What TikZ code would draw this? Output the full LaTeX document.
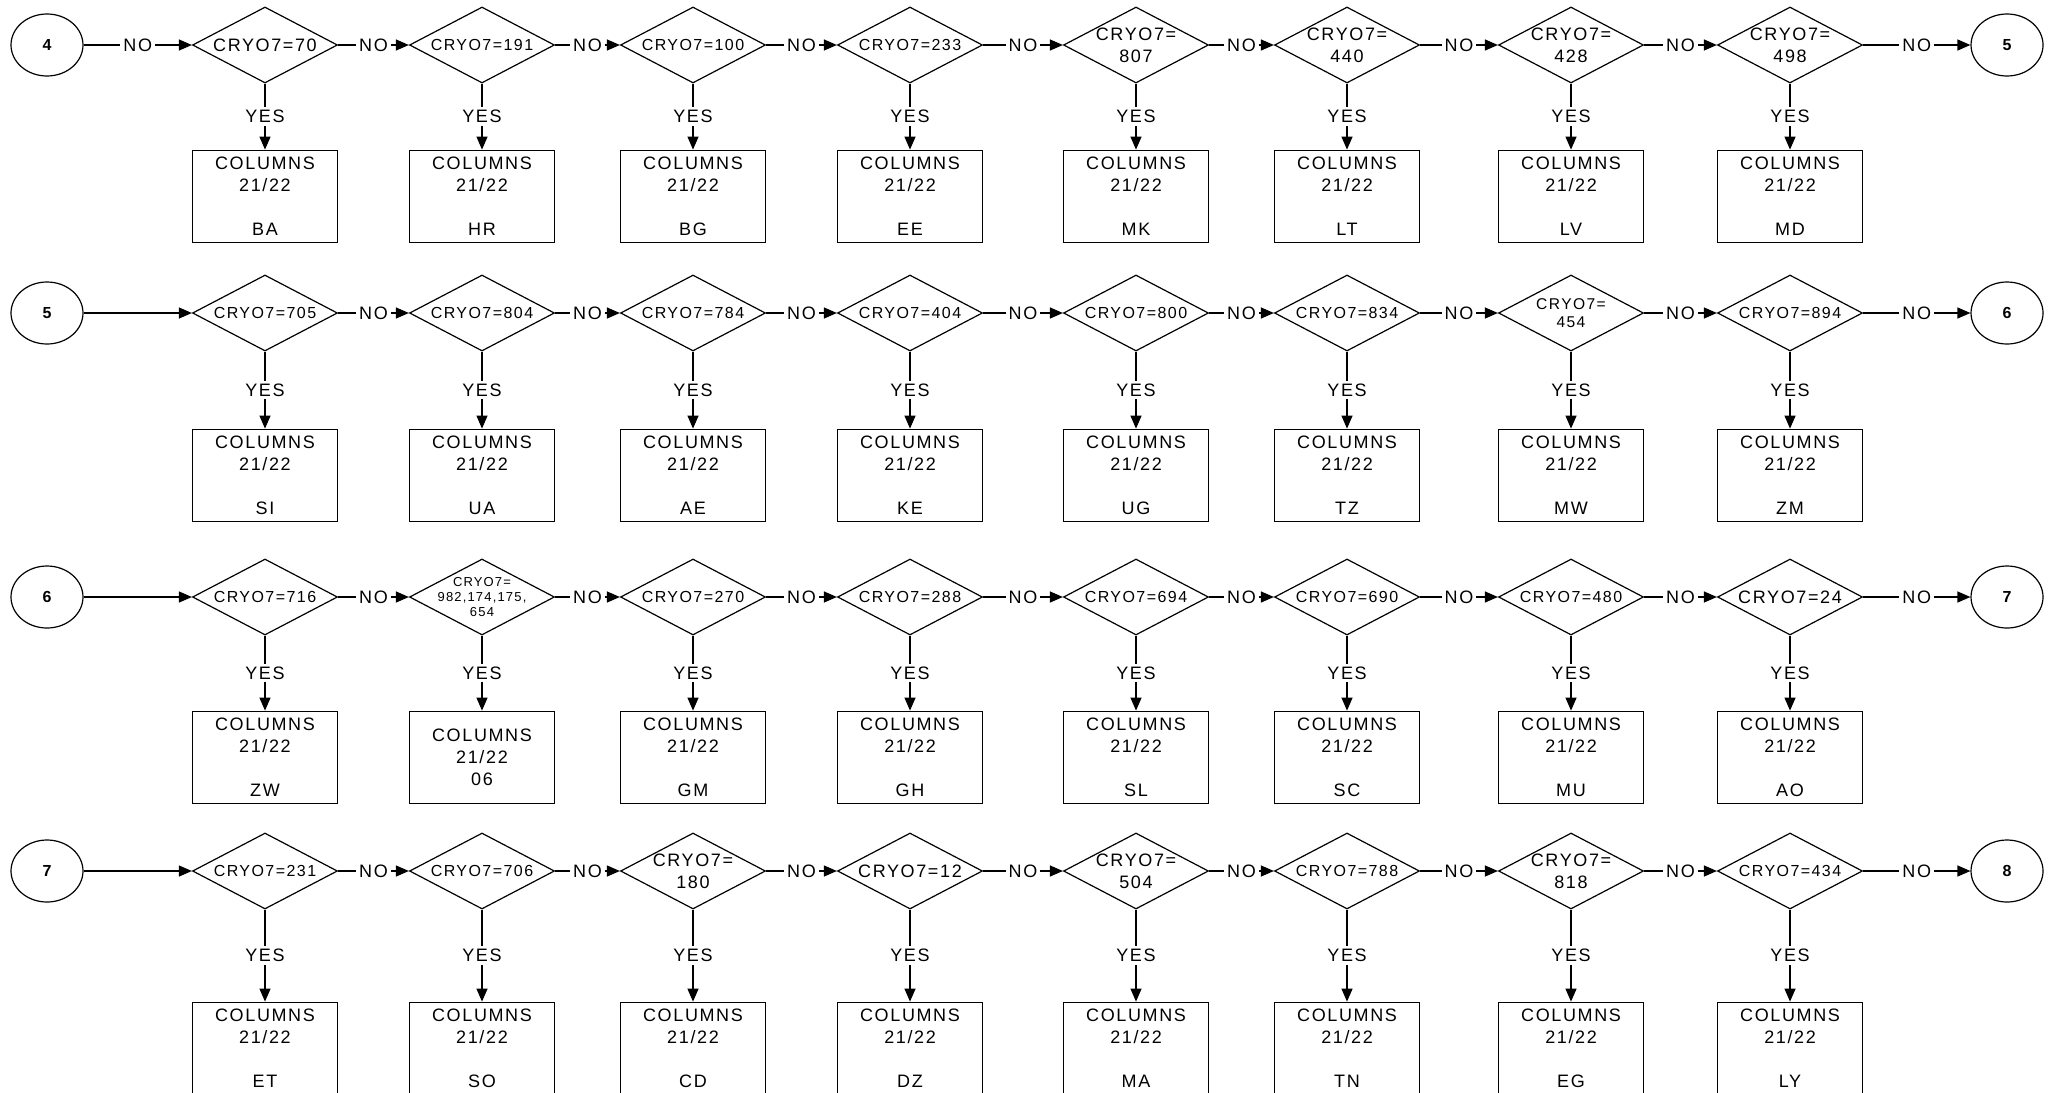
\documentclass[tikz,border=0pt]{standalone}
\usepackage{fontspec}
\setmainfont{Liberation Sans}[LetterSpace=9]
\usetikzlibrary{positioning,shapes.geometric,arrows.meta}
\tikzset{every picture/.style={line width=0.6pt}}

\begin{document}
\begin{tikzpicture}[x=0.5pt, y=-0.5pt, font=\fontsize{9}{11}\selectfont,
    conn/.style={draw, ellipse, minimum width=36pt, minimum height=31pt, inner sep=0pt, font=\fontsize{8}{9}\selectfont\bfseries},
    test/.style={draw, diamond, aspect=1.9, minimum width=72.5pt, minimum height=38pt, inner sep=0pt},
    cry/.style={align=center, inner sep=0pt},
    tight/.style={cry, font=\fontsize{8}{9.5}\selectfont},
    snug/.style={cry, font=\fontsize{7.8}{9}\selectfont},
    tiny/.style={cry, font=\fontsize{6.5}{7.5}\selectfont},
    result/.style={draw, rectangle, minimum width=72.5pt, minimum height=46pt, align=center, inner sep=0pt},
    flow/.style={-{Triangle[length=6.5pt, width=5.5pt]}},
    ans/.style={fill=white, inner sep=1.5pt}]
\useasboundingbox (0,0) rectangle (2049,1092);

    % Row 4 -> 5
\node[conn] (on4) at (47,45) {4};
\node[test, label={[cry]center:CRYO7=70}] (d11) at (265,45) {};
\node[test, label={[tight]center:CRYO7=191}] (d12) at (482,45) {};
\node[test, label={[tight]center:CRYO7=100}] (d13) at (693,45) {};
\node[test, label={[tight]center:CRYO7=233}] (d14) at (910,45) {};
\node[test, label={[cry]center:{CRYO7=\\807}}] (d15) at (1136,45) {};
\node[test, label={[cry]center:{CRYO7=\\440}}] (d16) at (1347,45) {};
\node[test, label={[cry]center:{CRYO7=\\428}}] (d17) at (1571,45) {};
\node[test, label={[cry]center:{CRYO7=\\498}}] (d18) at (1790,45) {};
\node[conn] (off5) at (2007,45) {5};

\node[result, below=33pt of d11] (b11) {COLUMNS\\21/22\\[11pt]BA};
\node[result, below=33pt of d12] (b12) {COLUMNS\\21/22\\[11pt]HR};
\node[result, below=33pt of d13] (b13) {COLUMNS\\21/22\\[11pt]BG};
\node[result, below=33pt of d14] (b14) {COLUMNS\\21/22\\[11pt]EE};
\node[result, below=33pt of d15] (b15) {COLUMNS\\21/22\\[11pt]MK};
\node[result, below=33pt of d16] (b16) {COLUMNS\\21/22\\[11pt]LT};
\node[result, below=33pt of d17] (b17) {COLUMNS\\21/22\\[11pt]LV};
\node[result, below=33pt of d18] (b18) {COLUMNS\\21/22\\[11pt]MD};

    % Row 5 -> 6
\node[conn] (on5) at (47,313) {5};
\node[test, label={[tight]center:CRYO7=705}] (d21) at (265,313) {};
\node[test, label={[tight]center:CRYO7=804}] (d22) at (482,313) {};
\node[test, label={[tight]center:CRYO7=784}] (d23) at (693,313) {};
\node[test, label={[tight]center:CRYO7=404}] (d24) at (910,313) {};
\node[test, label={[tight]center:CRYO7=800}] (d25) at (1136,313) {};
\node[test, label={[tight]center:CRYO7=834}] (d26) at (1347,313) {};
\node[test, label={[snug]center:{CRYO7=\\454}}] (d27) at (1571,313) {};
\node[test, label={[tight]center:CRYO7=894}] (d28) at (1790,313) {};
\node[conn] (off6) at (2007,313) {6};

\node[result, below=38.5pt of d21] (b21) {COLUMNS\\21/22\\[11pt]SI};
\node[result, below=38.5pt of d22] (b22) {COLUMNS\\21/22\\[11pt]UA};
\node[result, below=38.5pt of d23] (b23) {COLUMNS\\21/22\\[11pt]AE};
\node[result, below=38.5pt of d24] (b24) {COLUMNS\\21/22\\[11pt]KE};
\node[result, below=38.5pt of d25] (b25) {COLUMNS\\21/22\\[11pt]UG};
\node[result, below=38.5pt of d26] (b26) {COLUMNS\\21/22\\[11pt]TZ};
\node[result, below=38.5pt of d27] (b27) {COLUMNS\\21/22\\[11pt]MW};
\node[result, below=38.5pt of d28] (b28) {COLUMNS\\21/22\\[11pt]ZM};

    % Row 6 -> 7
\node[conn] (on6) at (47,597) {6};
\node[test, label={[tight]center:CRYO7=716}] (d31) at (265,597) {};
\node[test, label={[tiny]center:{CRYO7=\\982,174,175,\\654}}] (d32) at (482,597) {};
\node[test, label={[tight]center:CRYO7=270}] (d33) at (693,597) {};
\node[test, label={[tight]center:CRYO7=288}] (d34) at (910,597) {};
\node[test, label={[tight]center:CRYO7=694}] (d35) at (1136,597) {};
\node[test, label={[tight]center:CRYO7=690}] (d36) at (1347,597) {};
\node[test, label={[tight]center:CRYO7=480}] (d37) at (1571,597) {};
\node[test, label={[cry]center:CRYO7=24}] (d38) at (1790,597) {};
\node[conn] (off7) at (2007,597) {7};

\node[result, below=37.5pt of d31] (b31) {COLUMNS\\21/22\\[11pt]ZW};
\node[result, below=37.5pt of d32] (b32) {COLUMNS\\21/22\\06};
\node[result, below=37.5pt of d33] (b33) {COLUMNS\\21/22\\[11pt]GM};
\node[result, below=37.5pt of d34] (b34) {COLUMNS\\21/22\\[11pt]GH};
\node[result, below=37.5pt of d35] (b35) {COLUMNS\\21/22\\[11pt]SL};
\node[result, below=37.5pt of d36] (b36) {COLUMNS\\21/22\\[11pt]SC};
\node[result, below=37.5pt of d37] (b37) {COLUMNS\\21/22\\[11pt]MU};
\node[result, below=37.5pt of d38] (b38) {COLUMNS\\21/22\\[11pt]AO};

    % Row 7 -> 8
\node[conn] (on7) at (47,871) {7};
\node[test, label={[tight]center:CRYO7=231}] (d41) at (265,871) {};
\node[test, label={[tight]center:CRYO7=706}] (d42) at (482,871) {};
\node[test, label={[cry]center:{CRYO7=\\180}}] (d43) at (693,871) {};
\node[test, label={[cry]center:CRYO7=12}] (d44) at (910,871) {};
\node[test, label={[cry]center:{CRYO7=\\504}}] (d45) at (1136,871) {};
\node[test, label={[tight]center:CRYO7=788}] (d46) at (1347,871) {};
\node[test, label={[cry]center:{CRYO7=\\818}}] (d47) at (1571,871) {};
\node[test, label={[tight]center:CRYO7=434}] (d48) at (1790,871) {};
\node[conn] (off8) at (2007,871) {8};

\node[result, below=46pt of d41] (b41) {COLUMNS\\21/22\\[11pt]ET};
\node[result, below=46pt of d42] (b42) {COLUMNS\\21/22\\[11pt]SO};
\node[result, below=46pt of d43] (b43) {COLUMNS\\21/22\\[11pt]CD};
\node[result, below=46pt of d44] (b44) {COLUMNS\\21/22\\[11pt]DZ};
\node[result, below=46pt of d45] (b45) {COLUMNS\\21/22\\[11pt]MA};
\node[result, below=46pt of d46] (b46) {COLUMNS\\21/22\\[11pt]TN};
\node[result, below=46pt of d47] (b47) {COLUMNS\\21/22\\[11pt]EG};
\node[result, below=46pt of d48] (b48) {COLUMNS\\21/22\\[11pt]LY};

    % NO chain
    \draw[flow] (on4) -- node[ans] {NO} (d11);
    \draw[flow] (d11) -- node[ans] {NO} (d12);
    \draw[flow] (d12) -- node[ans] {NO} (d13);
    \draw[flow] (d13) -- node[ans] {NO} (d14);
    \draw[flow] (d14) -- node[ans] {NO} (d15);
    \draw[flow] (d15) -- node[ans] {NO} (d16);
    \draw[flow] (d16) -- node[ans] {NO} (d17);
    \draw[flow] (d17) -- node[ans] {NO} (d18);
    \draw[flow] (d18) -- node[ans] {NO} (off5);

    \draw[flow] (on5) -- (d21);
    \draw[flow] (d21) -- node[ans] {NO} (d22);
    \draw[flow] (d22) -- node[ans] {NO} (d23);
    \draw[flow] (d23) -- node[ans] {NO} (d24);
    \draw[flow] (d24) -- node[ans] {NO} (d25);
    \draw[flow] (d25) -- node[ans] {NO} (d26);
    \draw[flow] (d26) -- node[ans] {NO} (d27);
    \draw[flow] (d27) -- node[ans] {NO} (d28);
    \draw[flow] (d28) -- node[ans] {NO} (off6);

    \draw[flow] (on6) -- (d31);
    \draw[flow] (d31) -- node[ans] {NO} (d32);
    \draw[flow] (d32) -- node[ans] {NO} (d33);
    \draw[flow] (d33) -- node[ans] {NO} (d34);
    \draw[flow] (d34) -- node[ans] {NO} (d35);
    \draw[flow] (d35) -- node[ans] {NO} (d36);
    \draw[flow] (d36) -- node[ans] {NO} (d37);
    \draw[flow] (d37) -- node[ans] {NO} (d38);
    \draw[flow] (d38) -- node[ans] {NO} (off7);

    \draw[flow] (on7) -- (d41);
    \draw[flow] (d41) -- node[ans] {NO} (d42);
    \draw[flow] (d42) -- node[ans] {NO} (d43);
    \draw[flow] (d43) -- node[ans] {NO} (d44);
    \draw[flow] (d44) -- node[ans] {NO} (d45);
    \draw[flow] (d45) -- node[ans] {NO} (d46);
    \draw[flow] (d46) -- node[ans] {NO} (d47);
    \draw[flow] (d47) -- node[ans] {NO} (d48);
    \draw[flow] (d48) -- node[ans] {NO} (off8);

    % YES branches
    \draw[flow] (d11) -- node[ans] {YES} (b11);
    \draw[flow] (d12) -- node[ans] {YES} (b12);
    \draw[flow] (d13) -- node[ans] {YES} (b13);
    \draw[flow] (d14) -- node[ans] {YES} (b14);
    \draw[flow] (d15) -- node[ans] {YES} (b15);
    \draw[flow] (d16) -- node[ans] {YES} (b16);
    \draw[flow] (d17) -- node[ans] {YES} (b17);
    \draw[flow] (d18) -- node[ans] {YES} (b18);

    \draw[flow] (d21) -- node[ans] {YES} (b21);
    \draw[flow] (d22) -- node[ans] {YES} (b22);
    \draw[flow] (d23) -- node[ans] {YES} (b23);
    \draw[flow] (d24) -- node[ans] {YES} (b24);
    \draw[flow] (d25) -- node[ans] {YES} (b25);
    \draw[flow] (d26) -- node[ans] {YES} (b26);
    \draw[flow] (d27) -- node[ans] {YES} (b27);
    \draw[flow] (d28) -- node[ans] {YES} (b28);

    \draw[flow] (d31) -- node[ans] {YES} (b31);
    \draw[flow] (d32) -- node[ans] {YES} (b32);
    \draw[flow] (d33) -- node[ans] {YES} (b33);
    \draw[flow] (d34) -- node[ans] {YES} (b34);
    \draw[flow] (d35) -- node[ans] {YES} (b35);
    \draw[flow] (d36) -- node[ans] {YES} (b36);
    \draw[flow] (d37) -- node[ans] {YES} (b37);
    \draw[flow] (d38) -- node[ans] {YES} (b38);

    \draw[flow] (d41) -- node[ans] {YES} (b41);
    \draw[flow] (d42) -- node[ans] {YES} (b42);
    \draw[flow] (d43) -- node[ans] {YES} (b43);
    \draw[flow] (d44) -- node[ans] {YES} (b44);
    \draw[flow] (d45) -- node[ans] {YES} (b45);
    \draw[flow] (d46) -- node[ans] {YES} (b46);
    \draw[flow] (d47) -- node[ans] {YES} (b47);
    \draw[flow] (d48) -- node[ans] {YES} (b48);
\end{tikzpicture}
\end{document}
